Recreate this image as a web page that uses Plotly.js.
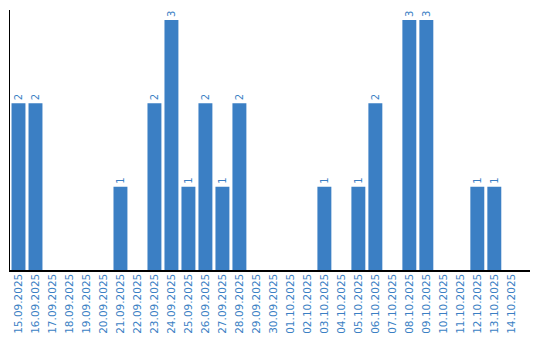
<!DOCTYPE html>
<html><head><meta charset="utf-8">
<script src="https://cdn.plot.ly/plotly-3.0.1.min.js"></script>
<style>html,body{margin:0;padding:0;background:#fff}</style>
</head><body><div id="chart" style="width:540px;height:340px"></div>
<script>
const dates = ["15.09.2025","16.09.2025","17.09.2025","18.09.2025","19.09.2025","20.09.2025","21.09.2025","22.09.2025","23.09.2025","24.09.2025","25.09.2025","26.09.2025","27.09.2025","28.09.2025","29.09.2025","30.09.2025","01.10.2025","02.10.2025","03.10.2025","04.10.2025","05.10.2025","06.10.2025","07.10.2025","08.10.2025","09.10.2025","10.10.2025","11.10.2025","12.10.2025","13.10.2025","14.10.2025"];
const counts = [2,2,0,0,0,0,1,0,2,3,1,2,1,2,0,0,0,0,1,0,1,2,0,3,3,0,0,1,1,0];
const labels = counts.map(v => v > 0 ? String(v) : "");
const blue = "#3b7fc4";
Plotly.newPlot("chart", [{
  type: "bar", x: dates, y: counts, text: labels,
  textposition: "outside", textangle: -90, cliponaxis: false,
  textfont: {family: "DejaVu Sans", size: 10, color: blue},
  marker: {color: blue}, hoverinfo: "none"
}], {
  width: 540, height: 340,
  margin: {l: 10, r: 10, t: 10, b: 70},
  paper_bgcolor: "#fff", plot_bgcolor: "#fff",
  bargap: 0.18, showlegend: false,
  xaxis: {type: "category", range: [-0.5, 30.1], showline: true, linecolor: "#000", linewidth: 1.5,
    tickangle: -90, ticks: "", showgrid: false, zeroline: false, ticklabelstandoff: -2,
    tickfont: {family: "DejaVu Sans", size: 10.5, color: blue}},
  yaxis: {range: [0, 3.12], showline: true, linecolor: "#000", linewidth: 1.5,
    showticklabels: false, ticks: "", showgrid: false, zeroline: false}
}, {staticPlot: true});
</script></body></html>
